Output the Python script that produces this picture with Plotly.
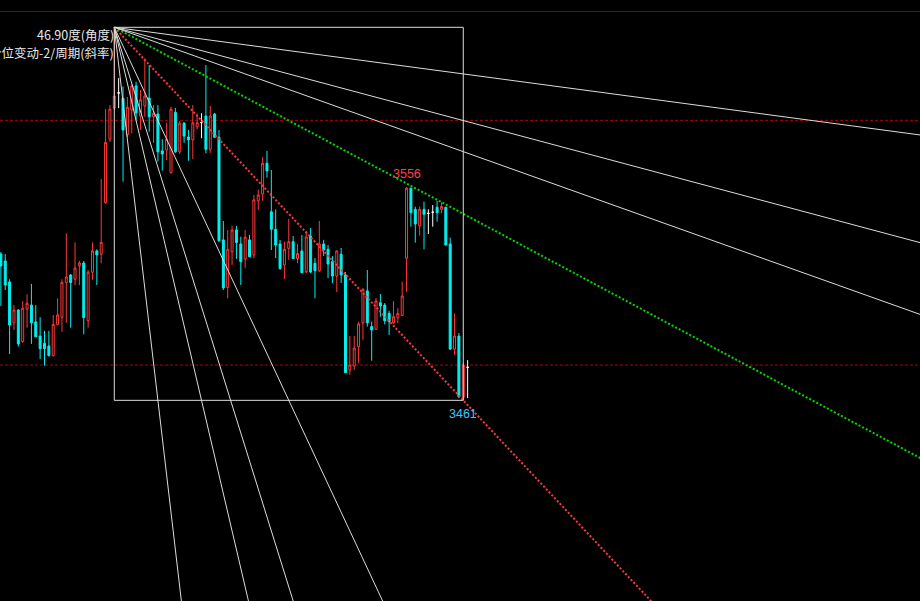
import math
import plotly.graph_objects as go

# ---------------- data (price values) ----------------
bar_index = list(range(108))
opens = [3526.1, 3523.0, 3513.7, 3495.5, 3501.2, 3487.1, 3501.6, 3503.4, 3495.9, 3489.6,
         3486.4, 3485.2, 3480.9, 3494.8, 3498.0, 3513.4, 3516.8, 3514.9, 3520.9, 3522.1,
         3496.4, 3518.0, 3527.5, 3526.0, 3548.9, 3577.2, 3591.0, 3597.8, 3595.4, 3579.1,
         3590.2, 3600.9, 3587.5, 3592.0, 3595.5, 3587.2, 3588.4, 3572.0, 3572.4, 3562.3,
         3589.2, 3571.6, 3584.3, 3578.2, 3576.9, 3582.8, 3584.6, 3587.5, 3572.7, 3588.4,
         3578.1, 3532.4, 3511.2, 3527.1, 3536.8, 3530.6, 3523.9, 3532.4, 3525.7, 3549.8,
         3552.8, 3566.5, 3544.9, 3537.1, 3530.6, 3521.2, 3528.6, 3531.6, 3524.1, 3527.5,
         3518.2, 3534.1, 3522.0, 3518.7, 3530.6, 3528.2, 3522.7, 3516.3, 3526.0, 3516.8,
         3474.5, 3476.3, 3484.9, 3495.5, 3509.7, 3493.8, 3492.6, 3504.4, 3503.4, 3499.7,
         3495.5, 3497.8, 3498.7, 3524.2, 3555.4, 3546.0, 3538.6, 3546.0, 3544.2, 3544.7,
         3546.9, 3546.0, 3546.9, 3530.6, 3483.8, 3489.6, 3462.3, 3475.7]
highs = [3527.0, 3526.1, 3514.9, 3503.4, 3501.6, 3505.2, 3508.2, 3512.8, 3503.4, 3498.0,
         3491.9, 3491.9, 3499.0, 3506.4, 3514.9, 3535.3, 3517.2, 3531.3, 3523.0, 3523.0,
         3519.0, 3531.3, 3528.2, 3559.5, 3590.6, 3592.4, 3627.0, 3604.4, 3600.6, 3596.0,
         3601.8, 3602.8, 3599.1, 3613.2, 3610.2, 3592.4, 3592.4, 3577.2, 3584.5, 3591.7,
         3591.1, 3585.3, 3584.9, 3581.3, 3592.4, 3588.7, 3588.7, 3610.2, 3592.0, 3588.9,
         3581.3, 3540.8, 3536.8, 3538.7, 3538.6, 3533.8, 3536.8, 3534.6, 3552.4, 3554.8,
         3569.3, 3572.0, 3563.5, 3546.0, 3532.4, 3531.6, 3541.8, 3534.1, 3530.6, 3534.6,
         3536.4, 3537.7, 3524.3, 3540.8, 3532.4, 3530.1, 3525.2, 3527.6, 3528.8, 3518.1,
         3489.6, 3489.6, 3495.9, 3510.8, 3519.0, 3496.0, 3506.5, 3508.3, 3504.3, 3500.8,
         3505.2, 3502.0, 3513.8, 3556.0, 3555.6, 3547.2, 3547.2, 3549.4, 3546.0, 3547.9,
         3549.7, 3549.1, 3547.2, 3533.4, 3499.7, 3491.0, 3477.6, 3478.9]
lows = [3503.0, 3510.1, 3481.6, 3492.3, 3484.9, 3486.6, 3493.3, 3486.1, 3489.0, 3479.4,
        3476.4, 3480.5, 3480.5, 3494.5, 3491.5, 3495.5, 3493.3, 3512.3, 3512.3, 3490.4,
        3493.3, 3514.6, 3512.3, 3522.0, 3548.5, 3576.0, 3590.2, 3591.0, 3558.3, 3578.2,
        3579.8, 3585.8, 3581.3, 3587.2, 3580.5, 3575.5, 3567.2, 3563.2, 3567.9, 3562.0,
        3571.1, 3570.6, 3575.6, 3567.6, 3568.4, 3581.6, 3577.6, 3570.9, 3571.1, 3577.7,
        3531.5, 3510.1, 3506.4, 3521.2, 3524.0, 3512.3, 3519.8, 3524.8, 3524.2, 3545.7,
        3549.8, 3560.1, 3527.9, 3524.3, 3519.0, 3514.9, 3523.5, 3523.9, 3522.0, 3517.6,
        3517.5, 3517.6, 3506.4, 3518.1, 3525.2, 3515.4, 3513.2, 3509.2, 3513.2, 3473.2,
        3472.3, 3474.5, 3477.5, 3487.8, 3493.8, 3478.6, 3492.3, 3498.2, 3494.8, 3490.1,
        3495.0, 3495.3, 3498.5, 3509.3, 3538.3, 3531.2, 3534.3, 3528.2, 3535.0, 3538.3,
        3540.5, 3544.2, 3530.0, 3483.5, 3481.2, 3462.0, 3461.0, 3462.0]
closes = [3520.8, 3512.3, 3494.5, 3501.2, 3486.1, 3502.0, 3504.2, 3495.5, 3489.3, 3484.0,
          3484.0, 3480.9, 3494.8, 3499.0, 3513.5, 3515.9, 3513.4, 3519.8, 3522.1, 3497.8,
          3518.0, 3527.5, 3525.7, 3531.3, 3575.8, 3590.6, 3596.4, 3597.8, 3581.3, 3591.4,
          3600.9, 3588.9, 3594.7, 3596.4, 3587.2, 3588.7, 3571.6, 3570.6, 3577.2, 3590.6,
          3571.6, 3584.3, 3578.6, 3576.9, 3584.5, 3584.5, 3584.6, 3572.7, 3587.5, 3578.1,
          3532.0, 3511.0, 3528.2, 3536.8, 3531.2, 3522.7, 3533.6, 3524.9, 3550.2, 3552.4,
          3566.5, 3563.1, 3537.1, 3530.1, 3519.7, 3528.2, 3531.6, 3524.1, 3526.3, 3517.8,
          3533.7, 3518.1, 3518.7, 3530.6, 3527.9, 3521.7, 3516.3, 3527.5, 3516.8, 3473.3,
          3476.7, 3484.2, 3495.0, 3510.5, 3495.5, 3492.3, 3505.2, 3503.0, 3496.4, 3496.0,
          3498.2, 3499.7, 3507.4, 3555.4, 3544.5, 3539.5, 3546.0, 3543.8, 3544.2, 3544.7,
          3544.5, 3547.2, 3530.1, 3483.8, 3489.6, 3462.6, 3476.7, 3475.7]

price_levels = [3585.6, 3476.7]          # dashed reference levels
fan_multipliers = [8, 4, 3, 2, 1, 1 / 2, 1 / 3, 1 / 4, 1 / 8]
rebound_high_index = 93                   # bar labelled 3556
angle_text = "46.90度(角度)"
slope_text = "价位变动-2/周期(斜率)"

# ---------------- derived values ----------------
i_hi = max(bar_index, key=lambda i: highs[i])
i_lo = min(bar_index, key=lambda i: lows[i])
p_hi, p_lo = highs[i_hi], lows[i_lo]
unit_slope = (p_lo - p_hi) / (i_lo - i_hi)

X_RANGE = [-0.2, 210.7]
Y_RANGE = [3371.7, 3639.15]

CYAN = "#00f0f0"
RED = "#ff3838"
WHITE = "#ffffff"
FAN = "#dcdcdc"

normal = [i for i in bar_index if opens[i] != closes[i]]
doji = [i for i in bar_index if opens[i] == closes[i]]

fig = go.Figure()

fig.add_trace(go.Candlestick(
    x=normal,
    open=[opens[i] for i in normal],
    high=[highs[i] for i in normal],
    low=[lows[i] for i in normal],
    close=[closes[i] for i in normal],
    increasing=dict(line=dict(color=RED, width=1), fillcolor="#000000"),
    decreasing=dict(line=dict(color=CYAN, width=1), fillcolor=CYAN),
    whiskerwidth=0,
    hoverinfo="skip",
    showlegend=False,
))
fig.add_trace(go.Candlestick(
    x=doji,
    open=[opens[i] for i in doji],
    high=[highs[i] for i in doji],
    low=[lows[i] for i in doji],
    close=[closes[i] for i in doji],
    increasing=dict(line=dict(color=WHITE, width=1), fillcolor=WHITE),
    decreasing=dict(line=dict(color=WHITE, width=1), fillcolor=WHITE),
    whiskerwidth=0,
    hoverinfo="skip",
    showlegend=False,
))

# Gann fan lines from the high
far = 400
for m in fan_multipliers:
    x_end = i_hi + far
    y_end = p_hi + unit_slope * m * far
    if m == 1:
        style = dict(color=RED, width=2, dash="2px,2px")
    elif m == 1 / 2:
        style = dict(color="#00d800", width=2, dash="2px,2px")
    else:
        style = dict(color=FAN, width=1)
    fig.add_trace(go.Scatter(x=[i_hi, x_end], y=[p_hi, y_end], mode="lines",
                             line=style, hoverinfo="skip", showlegend=False))

shapes = []
# box high -> low
shapes.append(dict(type="rect", xref="x", yref="y", x0=i_hi, x1=i_lo, y0=p_lo, y1=p_hi,
                   line=dict(color=FAN, width=1), fillcolor="rgba(0,0,0,0)", layer="above"))
# dashed price levels
for lv in price_levels:
    shapes.append(dict(type="line", xref="paper", yref="y", x0=0, x1=1, y0=lv, y1=lv,
                       line=dict(color="#b00000", width=1, dash="3px,2px"), layer="below"))
# top frame line
shapes.append(dict(type="line", xref="paper", yref="paper", x0=0, x1=1,
                   y0=1 - 11.5 / 601, y1=1 - 11.5 / 601,
                   line=dict(color="#8b0000", width=1)))

annotations = [
    dict(text=angle_text, xref="paper", yref="paper", x=116 / 920, y=1 - 35 / 601,
         xanchor="right", yanchor="middle", showarrow=False,
         font=dict(size=12.5, color="#e8e8e8", family="Noto Sans CJK SC")),
    dict(text=slope_text, xref="paper", yref="paper", x=116 / 920, y=1 - 52 / 601,
         xanchor="right", yanchor="middle", showarrow=False,
         font=dict(size=12.5, color="#e8e8e8", family="Noto Sans CJK SC")),
    dict(text=f"{highs[rebound_high_index]:.0f}", xref="x", yref="y",
         x=rebound_high_index, y=highs[rebound_high_index], yshift=13,
         xanchor="center", yanchor="middle", showarrow=False,
         font=dict(size=12.5, color="#ff4040", family="Liberation Sans")),
    dict(text=f"{p_lo:.0f}", xref="x", yref="y", x=i_lo, y=p_lo, yshift=-14,
         xanchor="center", yanchor="middle", showarrow=False,
         font=dict(size=12.5, color="#38c8ff", family="Liberation Sans")),
]

fig.update_layout(
    width=920, height=601,
    margin=dict(l=0, r=0, t=0, b=0),
    paper_bgcolor="#000000", plot_bgcolor="#000000",
    boxgap=0.35,
    showlegend=False,
    shapes=shapes,
    annotations=annotations,
    xaxis=dict(range=X_RANGE, visible=False, showgrid=False, zeroline=False,
               rangeslider=dict(visible=False), fixedrange=True),
    yaxis=dict(range=Y_RANGE, visible=False, showgrid=False, zeroline=False, fixedrange=True),
)

fig.write_html(
    "out.html",
    config={"displayModeBar": False},
    post_script="document.body.style.margin='0';document.body.style.background='#000';",
)
